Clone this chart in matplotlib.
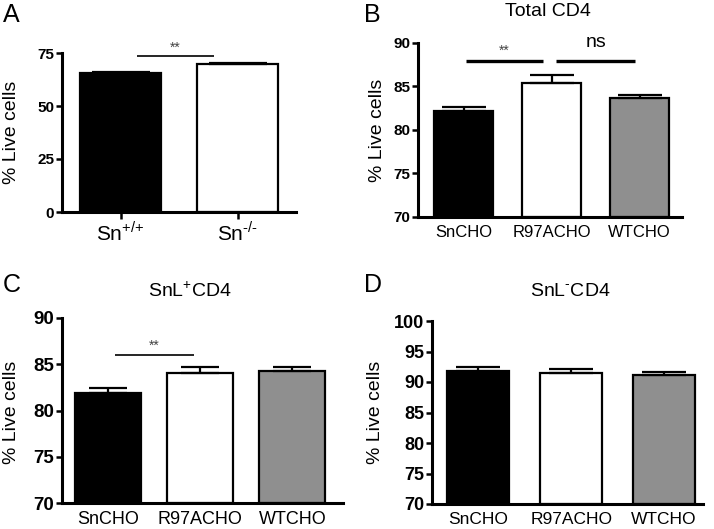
import matplotlib
matplotlib.use('Agg')
import matplotlib.pyplot as plt
from matplotlib import font_manager as fm
import numpy as np

plt.rcParams['font.family'] = ['Liberation Sans', 'DejaVu Sans']
plt.rcParams['mathtext.fontset'] = 'custom'
plt.rcParams['mathtext.rm'] = 'Liberation Sans'

BOLD_FILE = fm.findfont(fm.FontProperties(family='Liberation Sans', weight='bold'))

# data
a_labels = [r'Sn$^{\text{+/+}}$', r'Sn$^{\text{-/-}}$']
a_values = [65.6, 69.6]
a_errors = [0.3, 0.9]

cho_labels = ['SnCHO', 'R97ACHO', 'WTCHO']
b_values = [82.2, 85.45, 83.65]
b_errors = [0.5, 0.9, 0.4]
c_values = [81.9, 84.1, 84.3]
c_errors = [0.5, 0.55, 0.4]
d_values = [91.8, 91.5, 91.1]
d_errors = [0.6, 0.6, 0.5]

two_colors = ['black', 'white']
three_colors = ['black', 'white', '#8f8f8f']

W, H = 714, 529
fig = plt.figure(figsize=(W / 100, H / 100), dpi=100)


def px_axes(left, right, top, bottom):
    return fig.add_axes([left / W, 1 - bottom / H, (right - left) / W, (bottom - top) / H])


def panel(ax, labels, values, errors, colors, ylim, yticks, xlim, width,
          capsize, tick_fs, cat_fs, xticks_visible=False, cat_pad=6):
    x = np.arange(len(values))
    base = ylim[0]
    ax.bar(x, np.array(values) - base, bottom=base, width=width, color=colors,
           edgecolor='black', linewidth=1.6, zorder=2)
    ax.errorbar(x, values, yerr=[np.zeros(len(errors)), errors], fmt='none',
                ecolor='black', elinewidth=1.6, capsize=capsize, capthick=1.6, zorder=3)
    for s in ['top', 'right']:
        ax.spines[s].set_visible(False)
    for s in ['left', 'bottom']:
        ax.spines[s].set_linewidth(2.2)
    ax.tick_params(axis='y', length=4.5, width=1.8, pad=1)
    if xticks_visible:
        ax.tick_params(axis='x', length=5, width=1.8, pad=1)
    else:
        ax.tick_params(axis='x', length=0, pad=cat_pad)
    ax.set_ylim(*ylim)
    ax.set_xlim(*xlim)
    ax.set_yticks(yticks)
    bold = fm.FontProperties(fname=BOLD_FILE, size=tick_fs)
    ax.set_yticklabels([str(t) for t in yticks], fontproperties=bold)
    ax.set_xticks(x)
    ax.set_xticklabels(labels, fontsize=cat_fs)


def sig(ax, x0, x1, y, lw, text, ty, fs, color='#444444'):
    ax.plot([x0, x1], [y, y], color='black', linewidth=lw, solid_capstyle='butt', clip_on=False)
    ax.text((x0 + x1) / 2, ty, text, ha='center', va='center', fontsize=fs, color=color)


# A
axA = px_axes(62, 296, 53, 212)
panel(axA, a_labels, a_values, a_errors, two_colors, (0, 75), [0, 25, 50, 75],
      (-0.5, 1.5), 0.7, 21, 11, 15, xticks_visible=True)
sig(axA, 0.14, 0.80, 73.6, 1.2, '**', 77.5, 10)

# B
axB = px_axes(418, 682, 43, 217)
panel(axB, cho_labels, b_values, b_errors, three_colors, (70, 90), [70, 75, 80, 85, 90],
      (-0.52, 2.48), 0.67, 16, 11, 12)
sig(axB, 0.02, 0.90, 87.9, 2.4, '**', 89.1, 10)
sig(axB, 1.05, 1.95, 87.9, 2.4, 'ns', 90.1, 14, color='black')

# C
axC = px_axes(62, 343, 318, 503)
panel(axC, cho_labels, c_values, c_errors, three_colors, (70, 90), [70, 75, 80, 85, 90],
      (-0.5, 2.55), 0.72, 14, 13.5, 13)
sig(axC, 0.07, 0.93, 86.0, 1.2, '**', 87.0, 10)

# D
axD = px_axes(432, 703, 321, 504)
panel(axD, cho_labels, d_values, d_errors, three_colors, (70, 100),
      [70, 75, 80, 85, 90, 95, 100], (-0.5, 2.42), 0.67, 16, 13, 12.5)

# y labels
for xpx, ypx in [(12, 132), (377, 130), (12, 412), (375, 412)]:
    fig.text(xpx / W, 1 - ypx / H, '% Live cells', rotation=90, ha='center', va='center',
             fontsize=14)

# panel letters
for xpx, ypx, t in [(3, 3, 'A'), (364, 3, 'B'), (3, 273, 'C'), (364, 273, 'D')]:
    fig.text(xpx / W, 1 - ypx / H, t, ha='left', va='top', fontsize=18)

# titles
fig.text(548 / W, 1 - 12 / H, 'Total CD4', ha='center', va='center', fontsize=14)
fig.text(190 / W, 1 - 291 / H, r'SnL$^{\text{+}}$CD4', ha='center', va='center', fontsize=14)
fig.text(570 / W, 1 - 291 / H, r'SnL$^{\text{-}}$CD4', ha='center', va='center', fontsize=14)

fig.savefig('out.png', dpi=100)
